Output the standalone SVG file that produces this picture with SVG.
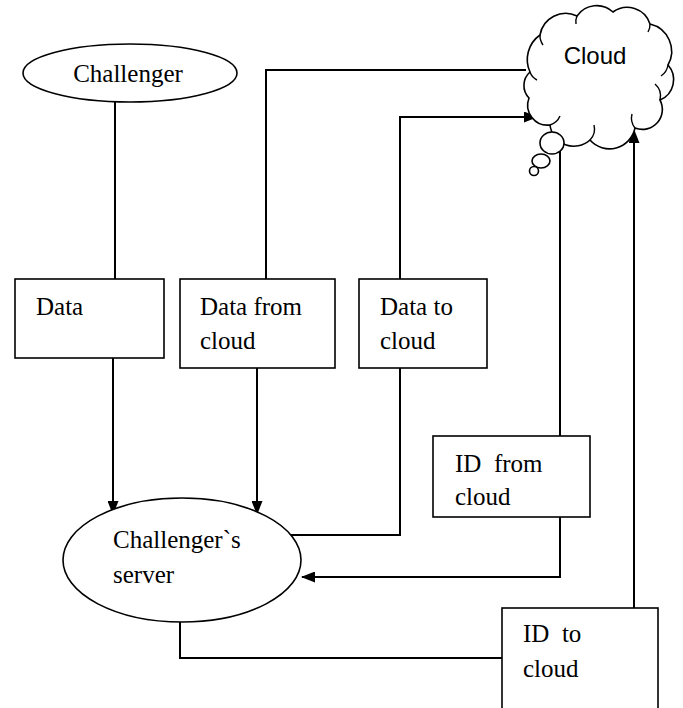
<svg xmlns="http://www.w3.org/2000/svg" width="683" height="708" viewBox="0 0 683 708">
<style>
.shape{fill:#fff;stroke:#000;stroke-width:1.6}
.conn{fill:none;stroke:#000;stroke-width:2}
.t{font-family:"Liberation Serif","Times New Roman",serif;font-size:25px;fill:#000}
.s{font-family:"Liberation Sans",Arial,sans-serif;font-size:24px;fill:#000}
</style>
<defs>
<marker id="arr" viewBox="0 0 14 11" refX="13" refY="5.5" markerWidth="14" markerHeight="11" markerUnits="userSpaceOnUse" orient="auto">
<path d="M0,0 L14,5.5 L0,11 Z" fill="#000"/>
</marker>
<clipPath id="clipIdFrom"><rect x="433" y="436" width="157" height="69"/></clipPath>
</defs>
<rect width="683" height="708" fill="#fff"/>
<g id="connectors">
<path class="conn" d="M115,102 V279"/>
<path class="conn" d="M113,358 V514" marker-end="url(#arr)"/>
<path class="conn" d="M257,368 V514" marker-end="url(#arr)"/>
<path class="conn" d="M266,279 V70 H526"/>
<path class="conn" d="M291,535 H400 V368"/>
<path class="conn" d="M400,279 V117 H537" marker-end="url(#arr)"/>
<path class="conn" d="M560,138 V436"/>
<path class="conn" d="M560,517 V577 H302" marker-end="url(#arr)"/>
<path class="conn" d="M180,621 V658 H502"/>
<path class="conn" d="M634,608 V130" marker-end="url(#arr)"/>
</g>
<g id="challenger">
<ellipse class="shape" cx="130" cy="73" rx="107" ry="29"/>
<text class="t" x="128" y="82" text-anchor="middle">Challenger</text>
</g>
<g id="data">
<rect class="shape" x="15" y="279" width="149" height="79"/>
<text class="t" x="36" y="315">Data</text>
</g>
<g id="data-from-cloud">
<rect class="shape" x="180" y="279" width="155" height="89"/>
<text class="t" x="200" y="315">Data from</text>
<text class="t" x="200" y="349">cloud</text>
</g>
<g id="data-to-cloud">
<rect class="shape" x="359" y="279" width="128" height="89"/>
<text class="t" x="380" y="315">Data to</text>
<text class="t" x="380" y="349">cloud</text>
</g>
<g id="id-from-cloud">
<rect class="shape" x="433" y="436" width="157" height="81"/>
<g clip-path="url(#clipIdFrom)">
<text class="t" x="455" y="472" xml:space="preserve">ID  from</text>
<text class="t" x="455" y="505">cloud</text>
</g>
</g>
<g id="id-to-cloud">
<rect class="shape" x="502" y="608" width="156" height="110"/>
<text class="t" x="523" y="642" xml:space="preserve">ID  to</text>
<text class="t" x="523" y="677">cloud</text>
</g>
<g id="challengers-server">
<ellipse class="shape" cx="182" cy="560" rx="119" ry="62"/>
<text class="t" x="113" y="548">Challenger`s</text>
<text class="t" x="113" y="583">server</text>
</g>
<g id="cloud">
<path class="shape" d="M530,72 A30,30 0 0 1 540,35 A26,26 0 0 1 577,16 A24,24 0 0 1 613,12 A24,24 0 0 1 650,24 A28,28 0 0 1 668,65 A22,22 0 0 1 660,100 A20,20 0 0 1 635,128 A26,26 0 0 1 590,140 A24,24 0 0 1 550,125 A20,20 0 0 1 529,98 A18,18 0 0 1 530,72 Z"/>
<path class="conn" style="stroke-width:1.4" d="M540,35 A16,16 0 0 0 543,45 M577,16 A14,14 0 0 0 576,24 M650,24 A14,14 0 0 1 648,32 M668,65 A16,16 0 0 1 661,76 M660,100 A16,16 0 0 0 655,84 M635,128 A16,16 0 0 1 632,114 M590,140 A16,16 0 0 0 594,125 M550,125 A16,16 0 0 0 560,116 M530,72 A14,14 0 0 0 537,80"/>
<ellipse class="shape" cx="552" cy="143" rx="12" ry="11"/>
<ellipse class="shape" cx="541" cy="161" rx="9" ry="7"/>
<circle class="shape" cx="534" cy="171" r="4.5"/>
<text class="s" x="595" y="64" text-anchor="middle">Cloud</text>
</g>
</svg>
